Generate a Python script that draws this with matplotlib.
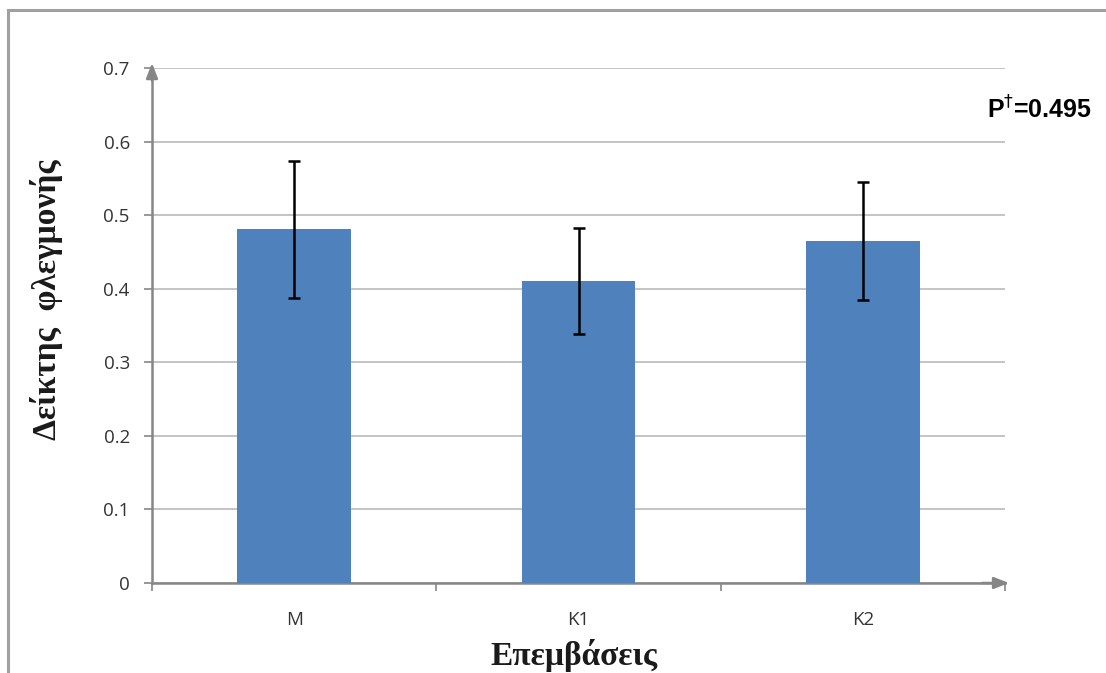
import matplotlib
matplotlib.use("Agg")
import matplotlib.pyplot as plt
from matplotlib.lines import Line2D

categories = ["M", "K1", "K2"]
means = [0.481, 0.411, 0.465]
errors = [0.093, 0.072, 0.080]
yticks = [0, 0.1, 0.2, 0.3, 0.4, 0.5, 0.6, 0.7]
ytick_labels = ["0", "0.1", "0.2", "0.3", "0.4", "0.5", "0.6", "0.7"]

W, H = 1106, 673
fig = plt.figure(figsize=(W / 100, H / 100), dpi=100)
ax = fig.add_axes([152 / W, (H - 583) / H, (1005 - 152) / W, (583 - 68) / H])

x = list(range(len(categories)))
ax.bar(x, means, width=0.4, color="#4F81BD", zorder=3)
ax.errorbar(x, means, yerr=errors, fmt="none", ecolor="black", elinewidth=1.8,
            capsize=4.5, capthick=1.8, zorder=4)

ax.set_xlim(-0.5, 2.5)
ax.set_ylim(0, 0.7)
ax.set_yticks(yticks)
ax.set_yticklabels(ytick_labels)
ax.set_xticks(x)
ax.set_xticklabels(categories)
ax.set_xticks([-0.5, 0.5, 1.5, 2.5], minor=True)

ax.yaxis.grid(True, color="#BFBFBF", linewidth=1.3, zorder=0)
ax.set_axisbelow(True)
for s in ["top", "right"]:
    ax.spines[s].set_visible(False)
for s in ["left", "bottom"]:
    ax.spines[s].set_color("#868686")
    ax.spines[s].set_linewidth(1.8)
ax.tick_params(axis="y", which="major", length=6, width=1.2, color="#868686",
               labelsize=13.5, labelcolor="#333333", pad=10)
ax.tick_params(axis="x", which="major", length=0, labelsize=13.5,
               labelcolor="#333333", pad=20)
ax.tick_params(axis="x", which="minor", length=6, width=1.2, color="#868686")
for lab in ax.get_xticklabels() + ax.get_yticklabels():
    lab.set_fontfamily("Open Sans")

# axis arrows
ax.annotate("", xy=(0, 1.015), xytext=(0, 0.97), xycoords="axes fraction",
            arrowprops=dict(arrowstyle="-|>,head_length=0.9,head_width=0.35",
                            color="#868686", lw=1.8), annotation_clip=False)
ax.annotate("", xy=(1.008, 0), xytext=(0.97, 0), xycoords="axes fraction",
            arrowprops=dict(arrowstyle="-|>,head_length=0.9,head_width=0.35",
                            color="#868686", lw=1.8), annotation_clip=False)

fig.text(47 / W, 1 - 300 / H, "Δείκτης  φλεγμονής", rotation=90,
         ha="center", va="center", fontsize=24, fontweight="bold",
         fontfamily="Liberation Serif", color="#1a1a1a")
fig.text(574 / W, 1 - 656 / H, "Επεμβάσεις", ha="center", va="center",
         fontsize=24, fontweight="bold", fontfamily="Liberation Serif",
         color="#1a1a1a")
fig.text(987 / W, 1 - 110 / H, r"P$^{\dagger}$=0.495", ha="left", va="center",
         fontsize=18, fontweight="bold", fontfamily="Liberation Sans",
         color="black")

# outer frame
fig.add_artist(Line2D([8 / W, 8 / W], [0, 1 - 10 / H], transform=fig.transFigure,
                      color="#A0A0A0", lw=2.2))
fig.add_artist(Line2D([8 / W, 1], [1 - 10 / H, 1 - 10 / H], transform=fig.transFigure,
                      color="#A0A0A0", lw=2.2))

fig.savefig("out.png", dpi=100)
